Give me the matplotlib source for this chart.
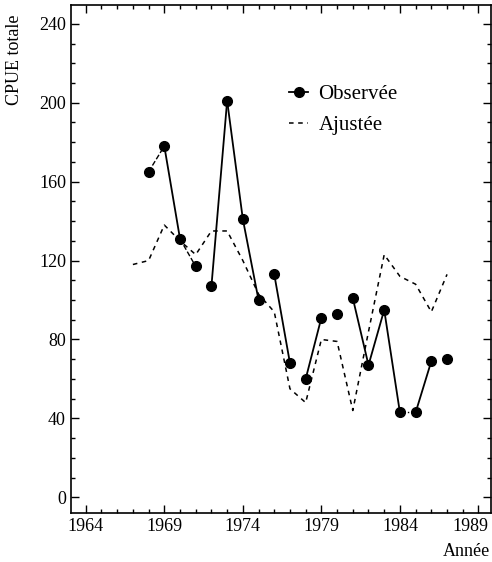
import matplotlib.pyplot as plt
from matplotlib.ticker import MultipleLocator
from matplotlib.transforms import ScaledTranslation

plt.rcParams['font.family'] = ['Liberation Serif', 'DejaVu Serif']

# observed CPUE
obs_years = [1968, 1969, 1970, 1971, 1972, 1973, 1974, 1975, 1976, 1977,
             1978, 1979, 1980, 1981, 1982, 1983, 1984, 1985, 1986, 1987]
obs_cpue = [165, 178, 131, 117, 107, 201, 141, 100, 113, 68,
            60, 91, 93, 101, 67, 95, 43, 43, 69, 70]
# how each pair of consecutive observations is linked in the scan
obs_links = ['--', '-', '--', None, '-', '-', '-', None, '-', None,
             '-', None, None, '-', '-', '-', ':', '-', None]

# fitted CPUE
fit_years = [1967, 1968, 1969, 1970, 1971, 1972, 1973, 1974, 1975, 1976, 1977,
             1978, 1979, 1980, 1981, 1982, 1983, 1984, 1985, 1986, 1987]
fit_cpue = [118, 120, 138, 130, 123, 135, 135, 120, 103, 94, 55,
            48, 80, 79, 44, 84, 123, 112, 108, 94, 113]

xticks = [1964, 1969, 1974, 1979, 1984, 1989]

fig = plt.figure(figsize=(4.92, 5.62), dpi=100)
ax = fig.add_axes([0.144, 0.087, 0.854, 0.904])

ax.plot(fit_years, fit_cpue, color='black', lw=1.1, ls=(0, (3, 3)))

for i, st in enumerate(obs_links):
    if st is None:
        continue
    ax.plot(obs_years[i:i + 2], obs_cpue[i:i + 2], color='black',
            lw=1.3 if st == '-' else 1.0, ls=st)
ax.plot(obs_years, obs_cpue, 'o', color='black', ms=7)

# legend handles
h_obs, = ax.plot([], [], '-o', color='black', lw=1.3, ms=7, label='Observée')
h_fit, = ax.plot([], [], color='black', lw=1.1, ls=(0, (3, 3)), label='Ajustée')
ax.legend(handles=[h_obs, h_fit], loc='upper left', bbox_to_anchor=(0.475, 0.88),
          frameon=False, fontsize=15, handlelength=0.9, handletextpad=0.5,
          labelspacing=0.55)

ax.set_xlim(1963.05, 1989.8)
ax.set_ylim(-8, 249.5)
ax.set_xticks(xticks)
ax.xaxis.set_minor_locator(MultipleLocator(1))
ax.yaxis.set_major_locator(MultipleLocator(40))
ax.yaxis.set_minor_locator(MultipleLocator(10))
ax.tick_params(which='both', direction='in', top=True, right=True, labelsize=13,
               width=1)
ax.tick_params(which='major', length=6)
ax.tick_params(which='minor', length=3)
for sp in ax.spines.values():
    sp.set_linewidth(1.2)

# last year label sits shifted left so it fits the page
last = ax.get_xticklabels()[-1]
last.set_transform(last.get_transform() + ScaledTranslation(-0.08, 0, fig.dpi_scale_trans))

fig.text(15 / 492, 1 - 60 / 562, 'CPUE totale', rotation=90, fontsize=13,
         ha='center', va='center')
fig.text(490 / 492, 1 - 552 / 562, 'Année', fontsize=13, ha='right', va='center')

fig.savefig('out.png', dpi=100)
